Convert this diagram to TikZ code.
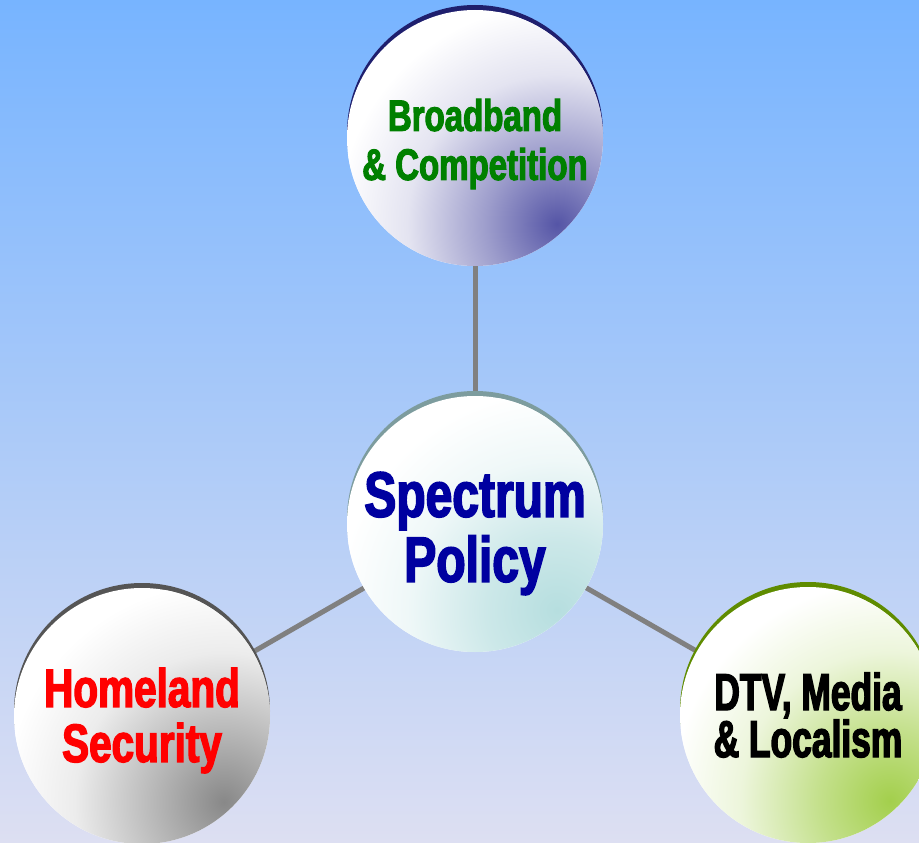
\documentclass[tikz,border=0pt]{standalone}
\usepackage{fontspec}
\newfontfamily\imp[FakeStretch=0.75,BoldFeatures={FakeBold=2.5}]{Liberation Sans}
\newfontfamily\impn[FakeStretch=0.68,BoldFeatures={FakeBold=2.5}]{Liberation Sans}
\definecolor{bgtop}{HTML}{77B4FF}
\definecolor{bgbot}{HTML}{DDDFF2}
\definecolor{linkgray}{HTML}{808080}
\definecolor{topdark}{HTML}{5555A6}
\definecolor{toprim}{HTML}{1F1F6E}
\definecolor{cendark}{HTML}{B6DEDF}
\definecolor{cenrim}{HTML}{7D9C9E}
\definecolor{hsdark}{HTML}{888888}
\definecolor{hsrim}{HTML}{555555}
\definecolor{dtvdark}{HTML}{A3CF4C}
\definecolor{dtvrim}{HTML}{5F8C00}
\definecolor{bbgreen}{HTML}{008000}
\definecolor{spnavy}{HTML}{0000A0}
\definecolor{hsred}{HTML}{FF0000}
\pgfdeclareradialshading{topshade}{\pgfpoint{0bp}{0bp}}{color(0bp)=(topdark); color(8bp)=(topdark!58!white); color(17bp)=(topdark!16!white); color(25bp)=(white); color(50bp)=(white)}
\pgfdeclareradialshading{censhade}{\pgfpoint{0bp}{0bp}}{color(0bp)=(cendark); color(8bp)=(cendark!70!white); color(17bp)=(cendark!22!white); color(25bp)=(white); color(50bp)=(white)}
\pgfdeclareradialshading{hsshade}{\pgfpoint{0bp}{0bp}}{color(0bp)=(hsdark); color(8bp)=(hsdark!60!white); color(17bp)=(hsdark!16!white); color(25bp)=(white); color(50bp)=(white)}
\pgfdeclareradialshading{dtvshade}{\pgfpoint{0bp}{0bp}}{color(0bp)=(dtvdark); color(8bp)=(dtvdark!65!white); color(17bp)=(dtvdark!20!white); color(25bp)=(white); color(50bp)=(white)}
\tikzset{
  ball/.style={circle, minimum size=256pt, inner sep=0pt, fill=white,
    path picture={\shade[shading=#1] ([shift={(82pt,-86pt)}]path picture bounding box.center) circle (220pt);}},
  rim/.style={circle, minimum size=256pt, inner sep=0pt, fill=#1},
  label text/.style={inner sep=0pt, align=center},
  link/.style={draw=linkgray, line width=5pt},
}
\begin{document}
\begin{tikzpicture}[x=1pt,y=-1pt]
\useasboundingbox (0,0) rectangle (919,843);
\clip (0,0) rectangle (919,843);
\shade[top color=bgtop, bottom color=bgbot] (0,0) rectangle (919,843);
% connector anchors
\coordinate (cTop) at (475,138);
\coordinate (cCen) at (475,524);
\coordinate (cHS) at (142,716);
\coordinate (cDTV) at (808,715);
\draw[link] (cTop) -- (cCen);
\draw[link] (cCen) -- (cHS);
\draw[link] (cCen) -- (cDTV);
% rims
\node[rim=toprim] (rTop) at (475,133) {};
\node[rim=cenrim] (rCen) at (475,519) {};
\node[rim=hsrim] (rHS) at (142,711) {};
\node[rim=dtvrim] (rDTV) at (808,710) {};
% balls
\node[ball=topshade] (top) at (cTop) {};
\node[ball=censhade] (cen) at (cCen) {};
\node[ball=hsshade] (hs) at (cHS) {};
\node[ball=dtvshade] (dtv) at (cDTV) {};
% texts
\node[label text, font={\imp\bfseries\fontsize{44}{48}\selectfont}, text=bbgreen] (topT) at ([yshift=-6pt]top.center) {Broadband\\[1pt]\& Competition};
\node[label text, font={\imp\bfseries\fontsize{64}{65}\selectfont}, text=spnavy] (cenT) at ([yshift=-9.5pt]cen.center) {Spectrum\\[0pt]Policy};
\node[label text, font={\imp\bfseries\fontsize{54}{55}\selectfont}, text=hsred] (hsT) at ([yshift=-4.5pt]hs.center) {Homeland\\[0pt]Security};
\node[label text, font={\impn\bfseries\fontsize{52}{48}\selectfont}, text=black] (dtvT) at (dtv.center) {DTV, Media\\[-1pt]\& Localism};
\end{tikzpicture}
\end{document}
